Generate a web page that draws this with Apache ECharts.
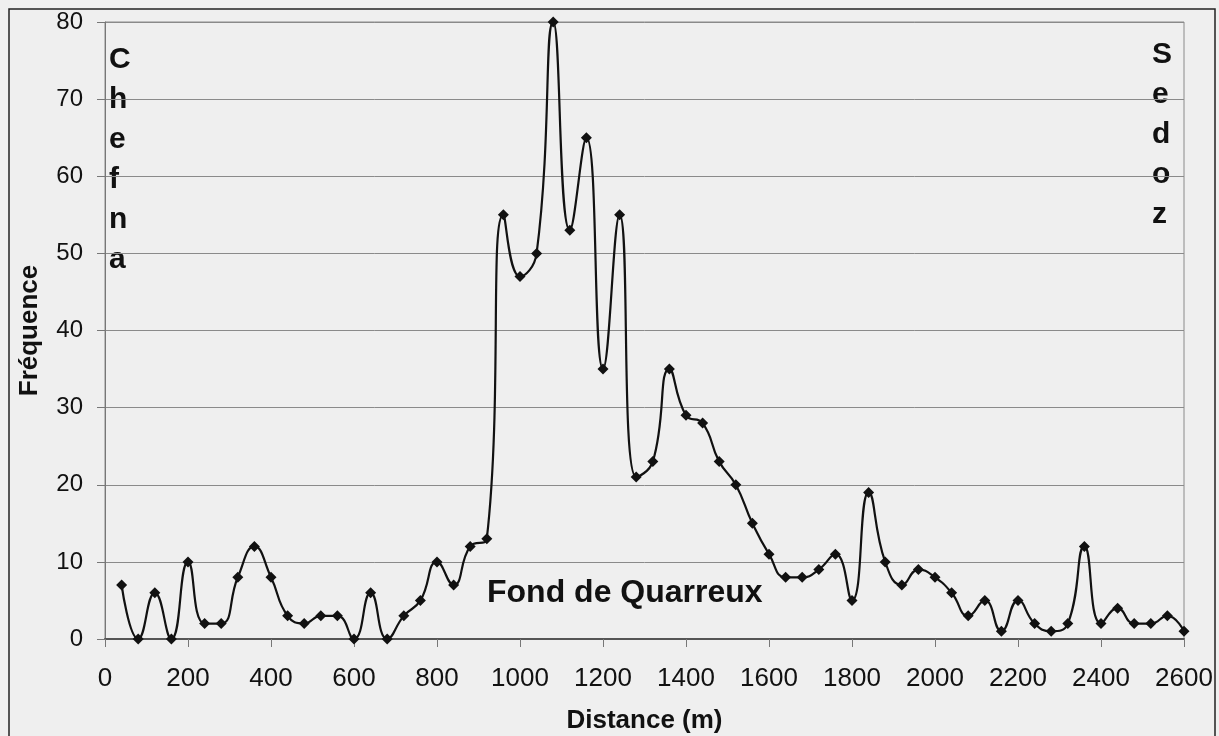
<!DOCTYPE html>
<html>
<head>
<meta charset="utf-8">
<script src="https://cdn.jsdelivr.net/npm/echarts@6/dist/echarts.min.js"></script>
<style>
html,body{margin:0;padding:0;background:#efefef;}
#chart{width:1219px;height:736px;}
</style>
</head>
<body>
<div id="chart"></div>
<script>
// Data
const distances = [40,80,120,160,200,240,280,320,360,400,440,480,520,560,600,640,680,720,760,800,840,880,920,960,1000,1040,1080,1120,1160,1200,1240,1280,1320,1360,1400,1440,1480,1520,1560,1600,1640,1680,1720,1760,1800,1840,1880,1920,1960,2000,2040,2080,2120,2160,2200,2240,2280,2320,2360,2400,2440,2480,2520,2560,2600];
const frequencies = [7,0,6,0,10,2,2,8,12,8,3,2,3,3,0,6,0,3,5,10,7,12,13,55,47,50,80,53,65,35,55,21,23,35,29,28,23,20,15,11,8,8,9,11,5,19,10,7,9,8,6,3,5,1,5,2,1,2,12,2,4,2,2,3,1];
const xTicks = {min:0, max:2600, interval:200};
const yTicks = {min:0, max:80, interval:10};
const xTitle = 'Distance (m)';
const yTitle = 'Fréquence';
const centerLabel = 'Fond de Quarreux';
const leftLabel = 'Chefna';
const rightLabel = 'Sedoz';

const seriesData = distances.map((d,i)=>[d, frequencies[i]]);
const font = '"Liberation Sans", Arial, sans-serif';

const chart = echarts.init(document.getElementById('chart'));
chart.setOption({
  backgroundColor:'#efefef',
  animation:false,
  grid:{left:105, right:35, top:22, height:617, outerBoundsMode:'none', containLabel:false, show:true, borderColor:'#8a8a8a', borderWidth:1, backgroundColor:'transparent'},
  xAxis:{
    type:'value', min:xTicks.min, max:xTicks.max, interval:xTicks.interval,
    name:xTitle, nameLocation:'middle', nameGap:69,
    nameTextStyle:{fontFamily:font, fontWeight:'bold', fontSize:26, color:'#111'},
    axisLine:{show:true, onZero:false, lineStyle:{color:'#555', width:2}},
    axisTick:{show:true, length:8, lineStyle:{color:'#777'}},
    axisLabel:{fontFamily:font, fontSize:26, color:'#111', margin:27, formatter:(v)=>String(v)},
    splitLine:{show:false}
  },
  yAxis:{
    type:'value', min:yTicks.min, max:yTicks.max, interval:yTicks.interval,
    name:yTitle, nameLocation:'middle', nameGap:62, nameRotate:90,
    nameTextStyle:{fontFamily:font, fontWeight:'bold', fontSize:26, color:'#111'},
    axisLine:{show:true, lineStyle:{color:'#777', width:1}},
    axisTick:{show:true, length:8, lineStyle:{color:'#777'}},
    axisLabel:{fontFamily:font, fontSize:24, color:'#111', margin:22},
    splitLine:{show:true, lineStyle:{color:'#8a8a8a', width:1}}
  },
  series:[{
    type:'line', data:seriesData, smooth:0.5,
    symbol:'diamond', symbolSize:11,
    lineStyle:{color:'#111', width:2.2},
    itemStyle:{color:'#111'}
  }],
  graphic:[
    {type:'rect', shape:{x:9, y:9, width:1206, height:740}, style:{fill:'none', stroke:'#222', lineWidth:1.5}, silent:true},
    {type:'text', left:487, top:577, style:{text:centerLabel, font:'bold 32px "Liberation Sans", Arial, sans-serif', fill:'#111'}},
    {type:'text', left:109, top:40, style:{text:leftLabel.split('').join('\n'), font:'bold 30px "Liberation Sans", Arial, sans-serif', lineHeight:40, fill:'#111', align:'left'}},
    {type:'text', left:1152, top:35, style:{text:rightLabel.split('').join('\n'), font:'bold 30px "Liberation Sans", Arial, sans-serif', lineHeight:40, fill:'#111', align:'center'}}
  ]
});
</script>
</body>
</html>
